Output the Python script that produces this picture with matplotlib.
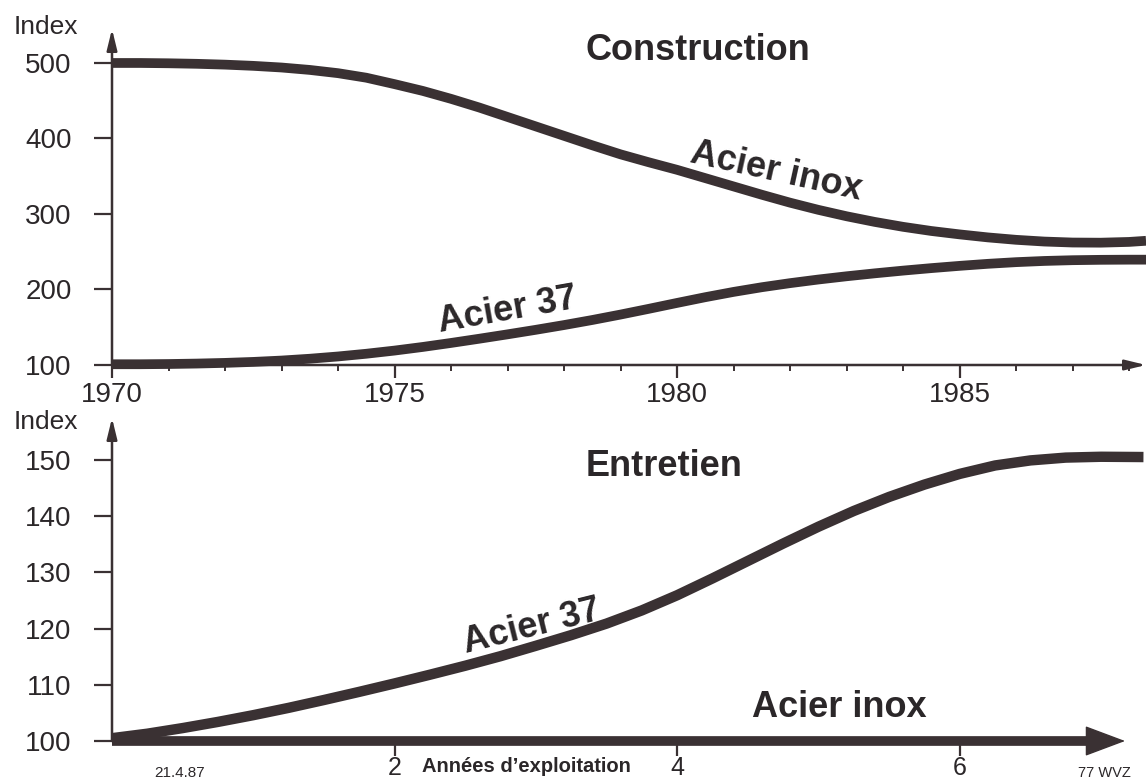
import matplotlib
matplotlib.use("Agg")
import matplotlib.pyplot as plt
from matplotlib.ticker import MultipleLocator

OUTPUT_FILE = "out.png"

# --- Construction (top panel) ---
years = [1970, 1970.5, 1971, 1971.5, 1972, 1972.5, 1973, 1973.5, 1974, 1974.5,
         1975, 1975.5, 1976, 1976.5, 1977, 1977.5, 1978, 1978.5, 1979, 1979.5,
         1980, 1980.5, 1981, 1981.5, 1982, 1982.5, 1983, 1983.5, 1984, 1984.5,
         1985, 1985.5, 1986, 1986.5, 1987, 1987.5, 1988, 1988.3]
constr_inox = [500, 500, 499.6, 498.9, 497.8, 496.2, 494, 490.8, 486.5, 480.5,
               472, 463, 452.5, 441, 428.5, 416, 403.5, 391, 379, 368.5,
               358.5, 347.5, 336.5, 325.5, 315, 305.5, 297, 289.5, 283, 277.5,
               273, 269, 265.8, 263.5, 262.2, 262, 263, 264.5]
constr_37 = [101, 101, 101.3, 101.9, 102.8, 104.1, 105.9, 108.3, 111.3, 114.9,
             119.1, 123.9, 129.2, 134.8, 140.6, 146.6, 152.9, 159.6, 166.8, 174.4,
             182.2, 189.8, 196.8, 203.0, 208.4, 213.2, 217.5, 221.4, 225.0, 228.3,
             231.3, 234.0, 236.2, 237.8, 238.8, 239.3, 239.5, 239.5]
constr_yticks = [100, 200, 300, 400, 500]
constr_xticks = [1970, 1975, 1980, 1985]

# --- Entretien (bottom panel) ---
op_years = [0, 0.25, 0.5, 0.75, 1.0, 1.25, 1.5, 1.75, 2.0, 2.25, 2.5, 2.75,
            3.0, 3.25, 3.5, 3.75, 4.0, 4.25, 4.5, 4.75, 5.0, 5.25, 5.5, 5.75,
            6.0, 6.25, 6.5, 6.75, 7.0, 7.3]
entr_37 = [100.5, 101.3, 102.3, 103.4, 104.6, 105.9, 107.3, 108.75, 110.25, 111.8,
           113.4, 115.1, 116.95, 118.85, 120.9, 123.25, 125.95, 128.95, 132.05, 135.15,
           138.15, 140.95, 143.45, 145.65, 147.55, 149.05, 149.95, 150.45, 150.6, 150.55]
inox_years = [0, 7.0]
entr_inox = [100, 100]
entr_yticks = [100, 110, 120, 130, 140, 150]
entr_xticks = [2, 4, 6]

INK = "#3a3133"
TXT = "#2b2729"

plt.rcParams["font.family"] = "Liberation Sans"

fig = plt.figure(figsize=(11.46, 7.82), dpi=100)
W, H = 1146.0, 782.0


def px_axes(x0, y_top, x1, y_bot):
    return fig.add_axes([x0 / W, 1 - y_bot / H, (x1 - x0) / W, (y_bot - y_top) / H])


def style_axes(ax):
    for s in ax.spines.values():
        s.set_visible(False)
    ax.tick_params(axis="y", direction="out", length=13, width=1.6, color=INK,
                   labelsize=20, labelcolor=TXT, pad=16)
    ax.tick_params(axis="x", which="major", direction="out", length=9, width=1.6,
                   color=INK, labelsize=20, labelcolor=TXT, pad=3)
    ax.tick_params(axis="x", which="minor", direction="out", length=4, width=1.4, color=INK)
    ax.tick_params(top=False, right=False)
    # vertical axis with arrow
    ax.annotate("", xy=(0, 1), xytext=(0, 0), xycoords="axes fraction",
                arrowprops=dict(arrowstyle="-|>,head_length=0.9,head_width=0.22",
                                lw=1.8, color=INK, mutation_scale=14, shrinkA=0, shrinkB=0),
                annotation_clip=False)
    ax.patch.set_alpha(0)


def draw_curve(ax, x, y, lw):
    ax.plot(x, y, color=INK, lw=lw, solid_capstyle="butt", solid_joinstyle="round",
            clip_on=False, zorder=3)


# ---- Top panel ----
ax_top = px_axes(112, 29, 1146, 365)
ax_top.set_xlim(1970, 1988.3)
ax_top.set_ylim(100, 545)
style_axes(ax_top)
ax_top.annotate("", xy=(1, 0), xytext=(0, 0), xycoords="axes fraction",
                arrowprops=dict(arrowstyle="-|>,head_length=0.9,head_width=0.22",
                                lw=1.8, color=INK, mutation_scale=14, shrinkA=0, shrinkB=0),
                annotation_clip=False)
ax_top.set_yticks(constr_yticks)
ax_top.set_xticks(constr_xticks)
ax_top.xaxis.set_minor_locator(MultipleLocator(1))
draw_curve(ax_top, years, constr_inox, 7)
draw_curve(ax_top, years, constr_37, 7)

ax_top.text(1980.37, 517, "Construction", fontsize=26, fontweight="bold", color=TXT,
            ha="center", va="center")
ax_top.text(1981.75, 356, "Acier inox", fontsize=26, fontweight="bold", color=TXT,
            ha="center", va="center", rotation=-12.5)
ax_top.text(1977.0, 172, "Acier 37", fontsize=26, fontweight="bold", color=TXT,
            ha="center", va="center", rotation=10)

# ---- Bottom panel ----
ax_bot = px_axes(112, 418, 1146, 741)
ax_bot.set_xlim(0, 7.318)
ax_bot.set_ylim(100, 157.5)
style_axes(ax_bot)
ax_bot.tick_params(axis="x", which="major", length=11, pad=0, labelsize=18)
ax_bot.set_yticks(entr_yticks)
ax_bot.set_xticks(entr_xticks)

draw_curve(ax_bot, op_years, entr_37, 7.5)
draw_curve(ax_bot, inox_years, entr_inox, 7)
ax_bot.annotate("", xy=(7.17, 100), xytext=(6.9, 100),
                arrowprops=dict(arrowstyle="-|>,head_length=1.2,head_width=0.45",
                                lw=1, color=INK, mutation_scale=22, shrinkA=0, shrinkB=0),
                annotation_clip=False, zorder=4)

ax_bot.text(3.91, 148.9, "Entretien", fontsize=26, fontweight="bold", color=TXT,
            ha="center", va="center")
ax_bot.text(5.15, 105.9, "Acier inox", fontsize=26, fontweight="bold", color=TXT,
            ha="center", va="center")
ax_bot.text(2.97, 120.3, "Acier 37", fontsize=26, fontweight="bold", color=TXT,
            ha="center", va="center", rotation=14)

# ---- Free labels ----
fig.text(46 / W, 1 - 27 / H, "Index", fontsize=19, color=TXT, ha="center", va="center")
fig.text(46 / W, 1 - 422 / H, "Index", fontsize=19, color=TXT, ha="center", va="center")
fig.text(526 / W, 1 - 767 / H, "Années d\u2019exploitation", fontsize=14.5, fontweight="bold",
         color=TXT, ha="center", va="center")
fig.text(180 / W, 1 - 773 / H, "21.4.87", fontsize=11, color=TXT, ha="center", va="center")
fig.text(1104 / W, 1 - 773 / H, "77 WVZ", fontsize=10.5, color=TXT, ha="center", va="center")

fig.savefig(OUTPUT_FILE, dpi=100)
plt.close(fig)
